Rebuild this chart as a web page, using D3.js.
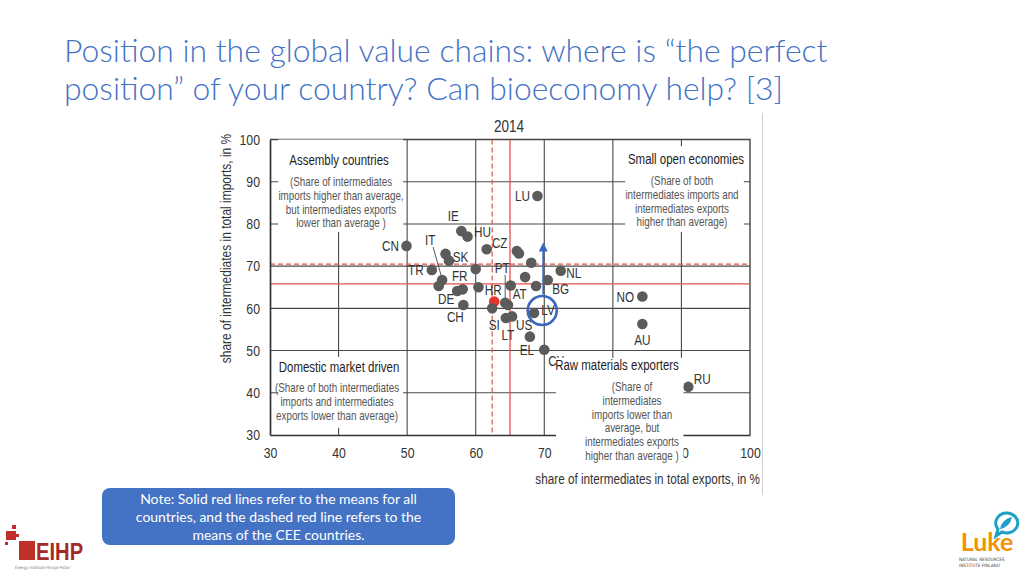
<!DOCTYPE html>
<html><head><meta charset="utf-8">
<script src="https://cdn.jsdelivr.net/npm/d3@7"></script>
<style>
html,body{margin:0;padding:0;background:#fff;}
svg{display:block;}
.narrow text{font-family:'Liberation Sans',Arial,sans-serif;}
</style></head>
<body>
<svg id="c" width="1024" height="576"></svg>
<script>
// ---------------- data ----------------
const titleLines = ["Position in the global value chains: where is \u201cthe perfect",
                    "position\u201d of your country? Can bioeconomy help? [3]"];
const chartYear = "2014";
const countries   = ["CN","IE","HU","CZ","SK","","TR","IT","","DE","FR","CH","","","HR","SI","PT","","LT","US","LV","EL","CY","AT","","","BG","","","","NL","LU","NO","AU","RU"];
const exportShare = [49.9,57.9,58.8,61.6,55.6,56.1,53.6,55.1,54.6,57.3,58.1,58.2,60.0,60.4,62.7,62.4,64.3,64.7,64.4,65.3,68.5,67.9,70.0,65.1,67.2,68.8,70.5,66.0,66.3,68.1,72.4,69.0,84.3,84.3,91.0];
const importShare = [74.8,78.3,77.0,74.0,72.9,71.3,69.1,66.7,65.3,64.1,64.5,60.8,69.3,65.0,61.6,60.0,61.3,60.8,57.7,58.1,58.9,53.3,50.2,65.4,67.4,65.3,66.7,73.6,73.0,70.8,68.9,86.6,62.8,56.3,41.4];
const highlighted = ["HR"];
const meanAll = {exp: 65.0, imp: 65.8};   // solid red lines
const meanCEE = {exp: 62.4, imp: 70.5};   // dashed red lines
const xTicks = [30,40,50,60,70,80,90,100];
const yTicks = [30,40,50,60,70,80,90,100];
const gridValues = [40,50,60,70,80,90];
const xTitle = "share of intermediates in total exports, in %";
const yTitle = "share of intermediates in total imports, in %";
const quadrants = [
  {title:"Assembly countries", lines:["(Share of intermediates","imports higher than average,","but intermediates exports","lower than average )"], box:[31.2,49.4,78.1,100]},
  {title:"Small open economies", lines:["(Share of both","intermediates imports and","intermediates exports","higher than average)"], box:[81.8,99.1,78.1,98.4]},
  {title:"Domestic market driven", lines:["(Share of both intermediates","imports and intermediates","exports lower than average)"], box:[31.2,49.4,31.7,48.5]},
  {title:"Raw materials exporters", lines:["(Share of","intermediates","imports lower than","average, but","intermediates exports","higher than average )"], box:[71.7,90.3,23.0,48.3]}
];
const noteLines = ["Note: Solid red lines refer to the means for all",
                   "countries, and the dashed red line refers to the",
                   "means of the CEE countries."];
// label layout (pixel offsets of label centre from point); third flag = leader line
const labelOffsets = {
  CN:[-16,0], IE:[-8,-15], HU:[15,-5], CZ:[13,-6], SK:[15,3], TR:[-16,0],
  IT:[-12,-40,true], DE:[-11,8], FR:[-3,-13], CH:[-8,12], HR:[-1,-12], SI:[2,17],
  PT:[-3,-35,true], LT:[2,17], US:[12,9], LV:[14,-3], EL:[-3,13], CY:[12,11],
  AT:[9,8], BG:[13,9], NL:[13,2], LU:[-15,0], NO:[-17,0], AU:[0,16], RU:[14,-8]
};

// ---------------- drawing ----------------
const svg = d3.select("#c");
const blue = "#4472c4";
const SX = 0.82; // condensed look (Arial-Narrow style)

function ntext(parent, x, y, str, size, anchor, fill, extra) {
  return parent.append("text")
    .attr("transform", `translate(${x},${y}) ${extra||""} scale(${SX},1)`)
    .attr("text-anchor", anchor || "middle")
    .attr("fill", fill || "#333")
    .style("font-size", size + "px")
    .text(str);
}

// slide title
const tg = svg.append("g").attr("fill", blue)
  .style("font-family","Lato, 'Open Sans', sans-serif").style("font-weight",300);
const t1 = tg.append("text").attr("x",64).attr("y",62).text(titleLines[0]).style("font-size","29px");
const fs = 29*764/t1.node().getComputedTextLength();
t1.style("font-size", fs+"px");
tg.append("text").attr("x",64).attr("y",100).text(titleLines[1]).style("font-size", fs+"px");

// image border line
svg.append("line").attr("x1",762.5).attr("x2",762.5).attr("y1",113).attr("y2",495)
  .attr("stroke","#d0d0d0").attr("stroke-width",1);

const x = d3.scaleLinear().domain([30,100]).range([270,750]);
const y = d3.scaleLinear().domain([30,100]).range([435,139.5]);

const g = svg.append("g").attr("class","narrow");

// grid
g.append("g").selectAll("line").data(gridValues).join("line")
  .attr("x1",d=>x(d)).attr("x2",d=>x(d)).attr("y1",y(100)).attr("y2",y(30))
  .attr("stroke","#4a4a4a").attr("stroke-width",1.1);
g.append("g").selectAll("line").data(gridValues).join("line")
  .attr("y1",d=>y(d)).attr("y2",d=>y(d)).attr("x1",x(30)).attr("x2",x(100))
  .attr("stroke","#4a4a4a").attr("stroke-width",1.1);
g.append("path").attr("d",`M${x(30)},${y(100)}H${x(100)}V${y(30)}`)
  .attr("fill","none").attr("stroke","#444").attr("stroke-width",1.4);

// red mean lines
const red = "#e4514b";
g.append("line").attr("x1",x(meanAll.exp)).attr("x2",x(meanAll.exp)).attr("y1",y(100)).attr("y2",y(30))
  .attr("stroke",red).attr("stroke-width",1.3);
g.append("line").attr("y1",y(meanAll.imp)).attr("y2",y(meanAll.imp)).attr("x1",x(30)).attr("x2",x(100))
  .attr("stroke",red).attr("stroke-width",1.3);
g.append("line").attr("x1",x(meanCEE.exp)).attr("x2",x(meanCEE.exp)).attr("y1",y(100)).attr("y2",y(30))
  .attr("stroke",red).attr("stroke-width",1.2).attr("stroke-dasharray","5,3");
g.append("line").attr("y1",y(meanCEE.imp)).attr("y2",y(meanCEE.imp)).attr("x1",x(30)).attr("x2",x(100))
  .attr("stroke",red).attr("stroke-width",1.2).attr("stroke-dasharray","5,3");

// axes
const ax = g.append("g").attr("transform",`translate(0,${y(30)})`)
  .call(d3.axisBottom(x).tickValues(xTicks).tickSize(0).tickSizeOuter(0).tickPadding(12));
const ay = g.append("g").attr("transform",`translate(${x(30)},0)`)
  .call(d3.axisLeft(y).tickValues(yTicks).tickSize(0).tickSizeOuter(0).tickPadding(10/SX));
[ax,ay].forEach(a=>{
  a.select(".domain").attr("stroke","#333").attr("stroke-width",1.7);
  a.selectAll("text").attr("fill","#333").attr("transform",`scale(${SX},1)`)
   .style("font-size","15px").style("font-family","'Liberation Sans',Arial,sans-serif");
});

// axis titles
ntext(g, 760, 484, xTitle, 14.3, "end");
ntext(g, 231, 248.5, yTitle, 14.6, "middle", "#333", "rotate(-90)");
ntext(g, 509, 131.5, chartYear, 16.5, "middle", "#333");

// points, leaders, labels
const pts = countries.map((c,i)=>({c, ex:exportShare[i], im:importShare[i]}));
pts.filter(d=>d.c && labelOffsets[d.c] && labelOffsets[d.c][2]).forEach(d=>{
  const o = labelOffsets[d.c];
  const px = x(d.ex), py = y(d.im);
  g.append("line").attr("x1",px+o[0]+3).attr("y1",py+o[1]+7).attr("x2",px).attr("y2",py-1)
    .attr("stroke","#444").attr("stroke-width",0.9);
});
g.append("g").selectAll("circle").data(pts).join("circle")
  .attr("cx",d=>x(d.ex)).attr("cy",d=>y(d.im)).attr("r",5.3)
  .attr("fill",d=>highlighted.includes(d.c)?"#e8322b":"#5b5b5b");
const lg0 = g.append("g");
pts.filter(d=>d.c && labelOffsets[d.c]).forEach(d=>{
  const o = labelOffsets[d.c];
  ntext(lg0, x(d.ex)+o[0], y(d.im)+o[1]+5, d.c, 14.3, "middle", "#333");
});

// quadrant boxes
quadrants.forEach(q=>{
  const [x0,x1,y0,y1] = q.box;
  g.append("rect").attr("x",x(x0)).attr("y",y(y1)).attr("width",x(x1)-x(x0)).attr("height",y(y0)-y(y1))
    .attr("fill","#fff");
});
const qText = [
  {cx:339, ty:164.5, sx:341, sy:186},
  {cx:686, ty:163.5, sx:682, sy:185},
  {cx:339, ty:371.5, sx:337, sy:392},
  {cx:617, ty:370, sx:632, sy:391}
];
quadrants.forEach((q,i)=>{
  const p = qText[i];
  ntext(g, p.cx, p.ty, q.title, 14, "middle", "#1e1e1e");
  q.lines.forEach((ln,j)=> ntext(g, p.sx, p.sy+j*13.8, ln, 12, "middle", "#555"));
});

// LV highlight circle & arrow
const lvc = {ex:69.7, im:59.5}, arrowTop = 75.6, arrowBase = 63.3;
const blueA = "#3a68c0";
g.append("circle").attr("cx",x(lvc.ex)).attr("cy",y(lvc.im)).attr("r",14.5)
  .attr("fill","none").attr("stroke",blueA).attr("stroke-width",2.6);
g.append("line").attr("x1",x(lvc.ex)+1).attr("x2",x(lvc.ex)+1).attr("y1",y(arrowBase)).attr("y2",y(arrowTop)+6)
  .attr("stroke",blueA).attr("stroke-width",1.8);
g.append("path").attr("d",`M${x(lvc.ex)+1},${y(arrowTop)} l-4.5,9 h9 z`).attr("fill",blueA);

// note box
svg.append("rect").attr("x",102).attr("y",488).attr("width",353).attr("height",57).attr("rx",8)
  .attr("fill",blue);
const ng = svg.append("g").attr("fill","#fff").style("font-family","Lato, 'Open Sans', sans-serif");
const nt = ng.selectAll("text").data(noteLines).join("text")
  .attr("x",278.5).attr("y",(d,i)=>504+i*18).attr("text-anchor","middle").style("font-size","13px").text(d=>d);
const nw = nt.nodes()[0].getComputedTextLength();
nt.style("font-size",(13*277/nw)+"px");

// EIHP logo
const lg = svg.append("g");
const lred = "#c0302a";
[[12,525,4,4],[6,531,10,9],[16,534,3,3],[5,542,3,3],[19,541,16,19]].forEach(r=>{
  lg.append("rect").attr("x",r[0]).attr("y",r[1]).attr("width",r[2]).attr("height",r[3]).attr("fill",lred);
});
lg.append("text").attr("transform","translate(36,560) scale(0.88,1)").attr("fill","#a52a26")
  .style("font-family","'Liberation Sans',Arial,sans-serif").style("font-size","23px")
  .style("font-weight","bold").text("EIHP");
lg.append("text").attr("x",15).attr("y",569).attr("fill","#777")
  .style("font-family","'DejaVu Sans Condensed',sans-serif").style("font-size","4.2px").text("Energy Institute Hrvoje Po\u017ear");

// Luke logo
const kg = svg.append("g");
kg.append("path").attr("d","M1006,513 a11,10 0 1,1 -4,19 l-6,4 l2,-7 a11,10 0 0,1 8,-16 z")
  .attr("fill","none").attr("stroke","#1ea0c8").attr("stroke-width",3);
kg.append("path").attr("d","M1000,529 q2,-10 12,-12 q-2,10 -12,12 z").attr("fill","#1ea0c8");
kg.append("text").attr("x",987).attr("y",551).attr("text-anchor","middle").attr("fill","#f39200")
  .style("font-family","Lato, sans-serif").style("font-weight","bold").style("font-size","25px").text("Luke");
kg.append("text").attr("x",959).attr("y",561).attr("fill","#444").style("font-family","'DejaVu Sans Condensed',sans-serif")
  .style("font-size","4.6px").text("NATURAL RESOURCES");
kg.append("text").attr("x",959).attr("y",567).attr("fill","#444").style("font-family","'DejaVu Sans Condensed',sans-serif")
  .style("font-size","4.6px").text("INSTITUTE FINLAND");
</script>
</body></html>
